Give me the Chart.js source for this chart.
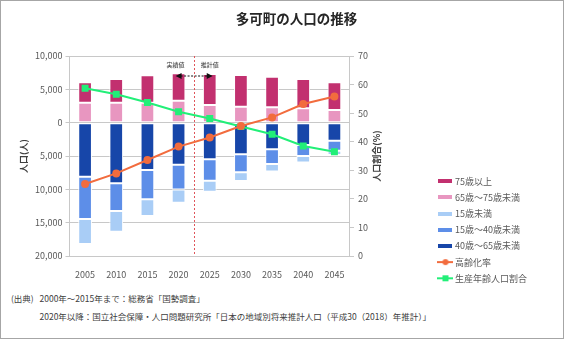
<!DOCTYPE html>
<html lang="ja">
<head>
<meta charset="utf-8">
<title>多可町の人口の推移</title>
<script src="https://cdn.jsdelivr.net/npm/chart.js@4.4.1/dist/chart.umd.min.js"></script>
<style>
  html, body { margin: 0; padding: 0; background: #fff; }
  body { position: relative; width: 564px; height: 339px; overflow: hidden; font-family: "Noto Sans CJK JP", sans-serif; }
  #border { position: absolute; left: 0; top: 0; width: 564px; height: 339px; box-sizing: border-box; border: 1px solid #a6a6a6; pointer-events: none; }
  #chart { position: absolute; left: 0; top: 0; }
  #title { position: absolute; left: 0; top: 9px; width: 593px; text-align: center; font-size: 13.5px; font-weight: bold; color: #262626; line-height: 18px; }
  .note { position: absolute; font-size: 8.5px; line-height: 10px; color: #404040; white-space: nowrap; }
</style>
</head>
<body>
<canvas id="chart" width="564" height="290"></canvas>
<div id="title">多可町の人口の推移</div>
<div class="note" style="left:11px; top:293px;">(出典)</div>
<div class="note" style="left:39.5px; top:293px;">2000年～2015年まで：総務省「国勢調査」</div>
<div class="note" style="left:39.5px; top:311px;">2020年以降：国立社会保障・人口問題研究所「日本の地域別将来推計人口（平成30（2018）年推計）」</div>
<div id="border"></div>
<script>
// 年齢階層別人口（人）と割合（%）
const years = ['2005', '2010', '2015', '2020', '2025', '2030', '2035', '2040', '2045'];
const age75plus  = [3060, 3550, 4110, 4110, 4650, 4750, 4590, 4390, 4160];
const age65to74  = [3000, 3000, 3000, 3300, 2650, 2400, 2310, 2160, 1900];
const age40to64  = [8100, 9100, 7100, 6300, 5490, 4740, 3990, 3350, 2700];
const age15to39  = [6350, 4150, 4400, 3720, 3210, 2700, 2200, 1650, 1500];
const ageUnder15 = [3750, 3100, 2500, 2010, 1650, 1300, 1150, 975, 650];
const agingRate   = [25.2, 28.9, 33.6, 38.3, 41.5, 45.5, 48.5, 53.2, 55.8];
const workingRate = [58.7, 56.6, 53.7, 50.5, 48.1, 45.3, 42.6, 38.5, 36.5];

const legendOrder = ['75歳以上', '65歳～75歳未満', '15歳未満', '15歳～40歳未満', '40歳～65歳未満', '高齢化率', '生産年齢人口割合'];

const C = {
  c75: '#c2306f', c65: '#e896c0', c40: '#1746a9', c15: '#5d8ee8', c0: '#a9cdf6',
  aging: '#f26c3e', working: '#22ef78'
};
const FONT = '"Noto Sans CJK JP", sans-serif';

// legend icons
function swatch(color) {
  const c = document.createElement('canvas');
  c.width = 14; c.height = 4;
  const g = c.getContext('2d');
  g.fillStyle = color; g.fillRect(0, 0, 14, 4);
  return c;
}
function lineIcon(color, shape) {
  const c = document.createElement('canvas');
  c.width = 16; c.height = 8;
  const g = c.getContext('2d');
  g.strokeStyle = color; g.lineWidth = 2;
  g.beginPath(); g.moveTo(0, 4); g.lineTo(16, 4); g.stroke();
  g.fillStyle = color;
  if (shape === 'circle') { g.beginPath(); g.arc(8, 4, 3, 0, Math.PI * 2); g.fill(); }
  else g.fillRect(5, 1, 6, 6);
  return c;
}

const neg = arr => arr.map(v => -v);

const datasets = [
  { type: 'line', label: '高齢化率', data: agingRate, yAxisID: 'y1', borderColor: C.aging, backgroundColor: C.aging,
    borderWidth: 2, pointRadius: 3, pointStyle: 'circle', icon: lineIcon(C.aging, 'circle') },
  { type: 'line', label: '生産年齢人口割合', data: workingRate, yAxisID: 'y1', borderColor: C.working, backgroundColor: C.working,
    borderWidth: 2, pointRadius: 3.5, pointStyle: 'rect', icon: lineIcon(C.working, 'rect') },
  { label: '65歳～75歳未満', data: age65to74, backgroundColor: C.c65, icon: swatch(C.c65) },
  { label: '75歳以上', data: age75plus, backgroundColor: C.c75, icon: swatch(C.c75) },
  { label: '40歳～65歳未満', data: neg(age40to64), backgroundColor: C.c40, icon: swatch(C.c40) },
  { label: '15歳～40歳未満', data: neg(age15to39), backgroundColor: C.c15, icon: swatch(C.c15) },
  { label: '15歳未満', data: neg(ageUnder15), backgroundColor: C.c0, icon: swatch(C.c0) }
];
datasets.forEach(d => {
  if (!d.type) {
    d.type = 'bar'; d.yAxisID = 'y';
    d.borderColor = '#ffffff'; d.borderWidth = 1; d.borderSkipped = false;
    d.barPercentage = 0.44; d.categoryPercentage = 1;
  }
});

// 実績値／推計値の区切り線
const divider = {
  id: 'divider',
  beforeDatasetsDraw(chart) {
    const {ctx, chartArea} = chart;
    const x = chart.scales.x;
    const px = (x.getPixelForValue(3) + x.getPixelForValue(4)) / 2;
    ctx.save();
    ctx.strokeStyle = '#e0555a';
    ctx.lineWidth = 1;
    ctx.setLineDash([2, 2]);
    ctx.beginPath();
    ctx.moveTo(Math.round(px) + 0.5, chartArea.top);
    ctx.lineTo(Math.round(px) + 0.5, chartArea.bottom);
    ctx.stroke();
    ctx.restore();
  },
  afterDraw(chart) {
    const {ctx} = chart;
    const x = chart.scales.x;
    const x1 = x.getPixelForValue(3) - 3;
    const x2 = x.getPixelForValue(4) + 3;
    const y = 76;
    ctx.save();
    ctx.font = '6px ' + FONT;
    ctx.fillStyle = '#333';
    ctx.textAlign = 'center';
    ctx.textBaseline = 'middle';
    ctx.fillText('実績値', x.getPixelForValue(3) - 3, 65);
    ctx.fillText('推計値', x.getPixelForValue(4), 65);
    ctx.strokeStyle = '#111';
    ctx.lineWidth = 1;
    ctx.setLineDash([2, 1.5]);
    ctx.beginPath();
    ctx.moveTo(x1 + 5, y); ctx.lineTo(x2 - 5, y);
    ctx.stroke();
    ctx.setLineDash([]);
    ctx.fillStyle = '#111';
    ctx.beginPath();
    ctx.moveTo(x1, y); ctx.lineTo(x1 + 6, y - 3); ctx.lineTo(x1 + 6, y + 3); ctx.closePath();
    ctx.moveTo(x2, y); ctx.lineTo(x2 - 6, y - 3); ctx.lineTo(x2 - 6, y + 3); ctx.closePath();
    ctx.fill();
    ctx.restore();
  }
};

// 右軸タイトル（下から上へ）
const rightTitle = {
  id: 'rightTitle',
  afterDraw(chart) {
    const {ctx} = chart;
    const s = chart.scales.y1;
    ctx.save();
    ctx.translate(s.left + 27, (s.top + s.bottom) / 2);
    ctx.rotate(-Math.PI / 2);
    ctx.font = 'bold 9px ' + FONT;
    ctx.fillStyle = '#404040';
    ctx.textAlign = 'center';
    ctx.textBaseline = 'middle';
    ctx.fillText('人口割合(%)', 0, 0);
    ctx.restore();
  }
};

const gridColor = '#c8c8c8';
const tickFont = { family: FONT, size: 9 };

new Chart(document.getElementById('chart'), {
  data: { labels: years, datasets: datasets },
  options: {
    responsive: false,
    animation: false,
    layout: { padding: { top: 56, right: 27, bottom: 0, left: 0 } },
    scales: {
      x: {
        stacked: true,
        grid: { display: false },
        border: { display: false },
        ticks: { color: '#595959', font: tickFont, padding: 5 },
        afterFit(scale) { scale.height = 34; }
      },
      y: {
        stacked: true,
        position: 'left',
        min: -20000, max: 10000,
        grid: { color: gridColor, tickLength: 4 },
        border: { display: true, color: gridColor },
        ticks: {
          stepSize: 5000, color: '#595959', font: tickFont, padding: 3,
          callback: v => Math.abs(v).toLocaleString('en-US')
        },
        title: {
          display: true, text: '人口(人)', color: '#404040',
          font: { family: FONT, size: 9, weight: 'bold' },
          padding: { top: 18.6, bottom: 0 }
        },
        afterFit(scale) { scale.width = 69.5; }
      },
      y1: {
        position: 'right',
        min: 0, max: 70,
        grid: { drawOnChartArea: false, color: gridColor, tickLength: 4 },
        border: { display: true, color: gridColor },
        ticks: { stepSize: 10, color: '#595959', font: tickFont, padding: 4 },
        afterFit(scale) { scale.width = 83.3; }
      }
    },
    plugins: {
      tooltip: { enabled: false },
      legend: {
        position: 'right',
        align: 'end',
        maxWidth: 130,
        labels: {
          usePointStyle: true,
          pointStyleWidth: 10,
          padding: 7.2,
          color: '#595959',
          font: { family: FONT, size: 9 },
          generateLabels(chart) {
            const items = Chart.defaults.plugins.legend.labels.generateLabels(chart);
            items.forEach(it => { it.pointStyle = chart.data.datasets[it.datasetIndex].icon; });
            return items;
          },
          sort: (a, b) => legendOrder.indexOf(a.text) - legendOrder.indexOf(b.text)
        }
      }
    }
  },
  plugins: [divider, rightTitle]
});
</script>
</body>
</html>
